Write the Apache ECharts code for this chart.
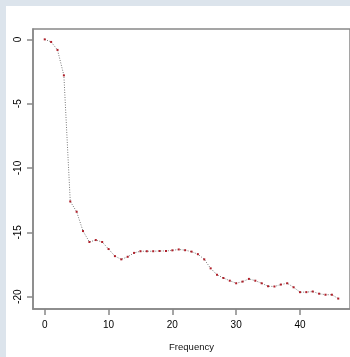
<!DOCTYPE html>
<html>
<head>
<meta charset="utf-8">
<script src="https://cdn.jsdelivr.net/npm/echarts@6/dist/echarts.min.js"></script>
<style>
html,body{margin:0;padding:0;}
#wrap{position:relative;width:350px;height:357px;background:#dce4ec;overflow:hidden;}
#panel{position:absolute;left:6px;top:6px;width:344px;height:351px;background:#ffffff;}
#chart{position:absolute;left:0;top:0;width:350px;height:357px;}
</style>
</head>
<body>
<div id="wrap"><div id="panel"></div><div id="chart"></div></div>
<script>
// Data
var frequency = [0,1,2,3,4,5,6,7,8,9,10,11,12,13,14,15,16,17,18,19,20,21,22,23,24,25,26,27,28,29,30,31,32,33,34,35,36,37,38,39,40,41,42,43,44,45,46];
var values = [0,-0.2,-0.82,-2.8,-12.6,-13.4,-14.9,-15.75,-15.6,-15.75,-16.3,-16.85,-17.1,-16.9,-16.6,-16.47,-16.47,-16.47,-16.45,-16.45,-16.4,-16.33,-16.39,-16.5,-16.7,-17.1,-17.8,-18.3,-18.55,-18.76,-18.96,-18.83,-18.62,-18.76,-18.96,-19.19,-19.21,-19.06,-18.96,-19.27,-19.65,-19.65,-19.6,-19.77,-19.85,-19.85,-20.15];
var xTicks = [0,10,20,30,40];
var yTicks = [0,-5,-10,-15,-20];
var xTitle = 'Frequency';

var pts = frequency.map(function(f,i){return [f, values[i]];});
var chart = echarts.init(document.getElementById('chart'), null, {renderer:'canvas'});
var axisGray = '#888888';
chart.setOption({
  animation:false,
  backgroundColor:'transparent',
  grid:{left:33, top:29, width:318, height:285, show:true, borderColor:axisGray, borderWidth:1.5, containLabel:false},
  xAxis:{
    type:'value', min:-1.84, max:47.84,
    name:xTitle, nameLocation:'middle', nameGap:33,
    nameTextStyle:{fontFamily:'Liberation Sans', fontSize:9.5, color:'#111'},
    axisLine:{show:true, onZero:false, lineStyle:{color:axisGray, width:1.5}},
    axisTick:{show:true, length:6, customValues:xTicks, lineStyle:{color:axisGray, width:1.5}},
    axisLabel:{customValues:xTicks, fontFamily:'Liberation Sans', fontSize:10, color:'#000', margin:11},
    splitLine:{show:false}
  },
  yAxis:{
    type:'value', min:-20.96, max:0.806,
    axisLine:{show:true, onZero:false, lineStyle:{color:axisGray, width:1.5}},
    axisTick:{show:true, length:6, customValues:yTicks, lineStyle:{color:axisGray, width:1.5}},
    axisLabel:{customValues:yTicks, rotate:90, fontFamily:'Liberation Sans', fontSize:10, color:'#000', margin:10},
    splitLine:{show:false}
  },
  series:[{
    type:'line', data:pts,
    symbol:'rect', symbolSize:2, showSymbol:true,
    itemStyle:{color:'#b0202a'},
    lineStyle:{type:[1,1.5], color:'#777777', width:1}
  }]
});
</script>
</body>
</html>
